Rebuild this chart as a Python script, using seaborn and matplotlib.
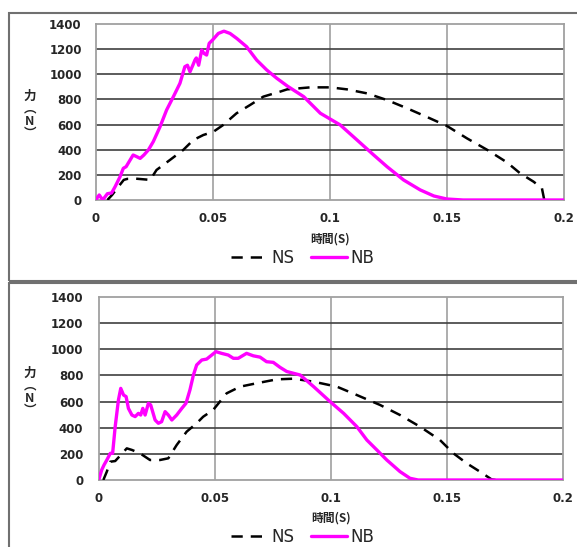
import matplotlib
matplotlib.use("Agg")
import matplotlib.pyplot as plt
from matplotlib.patches import Rectangle
import seaborn as sns
import pandas as pd

# top panel (NS / NB)
t_ns_top = [0.005, 0.007, 0.0097, 0.012, 0.0135, 0.017, 0.0233, 0.026, 0.0317, 0.0374, 0.0417,
            0.046, 0.0503, 0.0545, 0.0602, 0.066, 0.0716, 0.0788, 0.0818, 0.0917, 0.1003, 0.1074,
            0.116, 0.1245, 0.133, 0.1416, 0.150, 0.1587, 0.1672, 0.1757, 0.1814, 0.1871, 0.1907, 0.1917]
f_ns_top = [0, 40, 106, 160, 168, 170, 160, 239, 318, 398, 477,
            517, 543, 597, 690, 756, 822, 862, 880, 896, 896, 880,
            848, 795, 730, 660, 590, 490, 400, 300, 212, 146, 93, 0]

t_nb_top = [0, 0.0015, 0.003, 0.005, 0.0068, 0.0083, 0.0104, 0.0118, 0.013, 0.0147, 0.016, 0.0175,
            0.019, 0.0206, 0.0225, 0.0246, 0.0275, 0.0303, 0.0332, 0.036, 0.0381, 0.0392, 0.0403,
            0.0415, 0.0424, 0.043, 0.044, 0.0453, 0.0463, 0.0474, 0.0485, 0.0502, 0.0524, 0.0548,
            0.0574, 0.0603, 0.0645, 0.0688, 0.0731, 0.0774, 0.082, 0.0889, 0.096, 0.1045, 0.1117,
            0.1188, 0.1245, 0.1316, 0.1387, 0.1445, 0.150, 0.157, 0.2]
f_nb_top = [0, 40, 0, 50, 56, 106, 185, 252, 265, 318, 358, 345,
            331, 358, 398, 464, 583, 716, 822, 928, 1060, 1072, 1020,
            1072, 1113, 1130, 1072, 1193, 1166, 1153, 1246, 1278, 1325, 1343,
            1325, 1285, 1219, 1113, 1034, 968, 905, 822, 690, 597, 477,
            358, 265, 159, 80, 32, 8, 0, 0]

# bottom panel
t_ns_bot = [0.002, 0.0035, 0.005, 0.0071, 0.0121, 0.0143, 0.0178, 0.0221, 0.0264, 0.030, 0.0336,
            0.0379, 0.0422, 0.045, 0.0493, 0.0551, 0.0609, 0.068, 0.0767, 0.084, 0.0926, 0.1026,
            0.1112, 0.1212, 0.1298, 0.1384, 0.147, 0.1528, 0.1585, 0.1642, 0.1692, 0.171]
f_ns_bot = [0, 64, 140, 145, 242, 230, 204, 153, 153, 166, 268,
            370, 434, 484, 536, 663, 714, 740, 770, 775, 752, 714,
            650, 574, 497, 408, 306, 204, 128, 64, 5, 0]

t_nb_bot = [0, 0.0013, 0.0023, 0.0035, 0.005, 0.006, 0.0071, 0.0078, 0.0085, 0.0095, 0.0107,
            0.0118, 0.0128, 0.0143, 0.0157, 0.0171, 0.0181, 0.019, 0.020, 0.0214, 0.0224, 0.0243,
            0.0257, 0.0271, 0.0286, 0.030, 0.0315, 0.0336, 0.0358, 0.0376, 0.0393, 0.0408, 0.0422,
            0.0444, 0.0465, 0.0487, 0.0505, 0.0529, 0.0558, 0.058, 0.0601, 0.0637, 0.0666, 0.0695,
            0.0723, 0.0752, 0.0781, 0.081, 0.0868, 0.0926, 0.0997, 0.1055, 0.1112, 0.1155, 0.1198,
            0.1241, 0.1298, 0.1341, 0.1376, 0.2]
f_nb_bot = [0, 77, 115, 153, 204, 204, 408, 510, 612, 701, 650,
            638, 548, 497, 485, 510, 497, 548, 497, 587, 574, 459,
            434, 446, 523, 497, 459, 497, 548, 587, 689, 803, 880,
            918, 925, 956, 982, 969, 956, 931, 931, 969, 950, 940,
            905, 900, 862, 830, 803, 714, 599, 510, 408, 306, 230,
            153, 64, 13, 0, 0]

panels = [
    (t_ns_top, f_ns_top, t_nb_top, f_nb_top),
    (t_ns_bot, f_ns_bot, t_nb_bot, f_nb_bot),
]

sns.set_theme(style="white")
plt.rcParams["font.family"] = ["DejaVu Sans", "Noto Sans CJK JP"]
cjk = ["Noto Sans CJK JP", "DejaVu Sans"]

fig = plt.figure(figsize=(5.77, 5.47), dpi=100)

# outer chart frames
fig.add_artist(Rectangle((9 / 577, 1 - 281 / 547), 1.0, 268 / 547, transform=fig.transFigure,
                         fill=False, edgecolor="#707070", linewidth=1.5))
fig.add_artist(Rectangle((9 / 577, -0.05), 1.0, 1 - 283 / 547 + 0.05, transform=fig.transFigure,
                         fill=False, edgecolor="#707070", linewidth=1.5))

axes_pos = [
    [95.7 / 577, 1 - 200 / 547, 468 / 577, 176 / 547],
    [98.7 / 577, 1 - 480 / 547, 464.3 / 577, 183 / 547],
]
ylab_y = [1 - 115 / 547, 1 - 392 / 547]
xlab_coord = [-0.185, -0.17]
leg_y = [1 - 258 / 547, 1 - 537 / 547]
ypad = [10, 11]

for i, (tns, fns, tnb, fnb) in enumerate(panels):
    ax = fig.add_axes(axes_pos[i])
    df_ns = pd.DataFrame({"t": tns, "F": fns})
    df_nb = pd.DataFrame({"t": tnb, "F": fnb})
    sns.lineplot(data=df_ns, x="t", y="F", ax=ax, color="black", linewidth=1.8,
                 linestyle=(0, (4.5, 3.2)), label="NS", zorder=3)
    sns.lineplot(data=df_nb, x="t", y="F", ax=ax, color="#FF00FF", linewidth=2.4,
                 label="NB", zorder=4)
    ax.set_xlim(0, 0.2)
    ax.set_ylim(0, 1400)
    ax.set_xticks([0, 0.05, 0.1, 0.15, 0.2])
    ax.set_xticklabels(["0", "0.05", "0.1", "0.15", "0.2"])
    ax.set_yticks(range(0, 1401, 200))
    for v in [0.05, 0.1, 0.15]:
        ax.axvline(v, color="#a0a0a0", linewidth=1.2, zorder=1)
    for v in range(200, 1400, 200):
        ax.axhline(v, color="#404040", linewidth=1.2, zorder=1)
    for s in ax.spines.values():
        s.set_color("#a0a0a0")
        s.set_linewidth(1.3)
    ax.tick_params(axis="x", length=0, pad=9, labelsize=8.5)
    ax.tick_params(axis="y", length=0, pad=ypad[i], labelsize=8.5)
    for lab in ax.get_xticklabels() + ax.get_yticklabels():
        lab.set_fontweight("bold")
    ax.set_xlabel("時間(S)", fontsize=8.5, fontweight="bold", family=cjk)
    ax.xaxis.set_label_coords(0.5, xlab_coord[i])
    ax.set_ylabel("")
    fig.text(30 / 577, ylab_y[i], "力\n︵\nN\n︶", ha="center", va="center", fontsize=9,
             fontweight="bold", family=cjk, linespacing=0.95)
    ax.legend(loc="center", bbox_to_anchor=(0.525, leg_y[i]), bbox_transform=fig.transFigure,
              ncol=2, frameon=False, fontsize=12, handlelength=2.2, handletextpad=0.2,
              columnspacing=1.0, borderpad=0)

fig.savefig("out.png", dpi=100)
